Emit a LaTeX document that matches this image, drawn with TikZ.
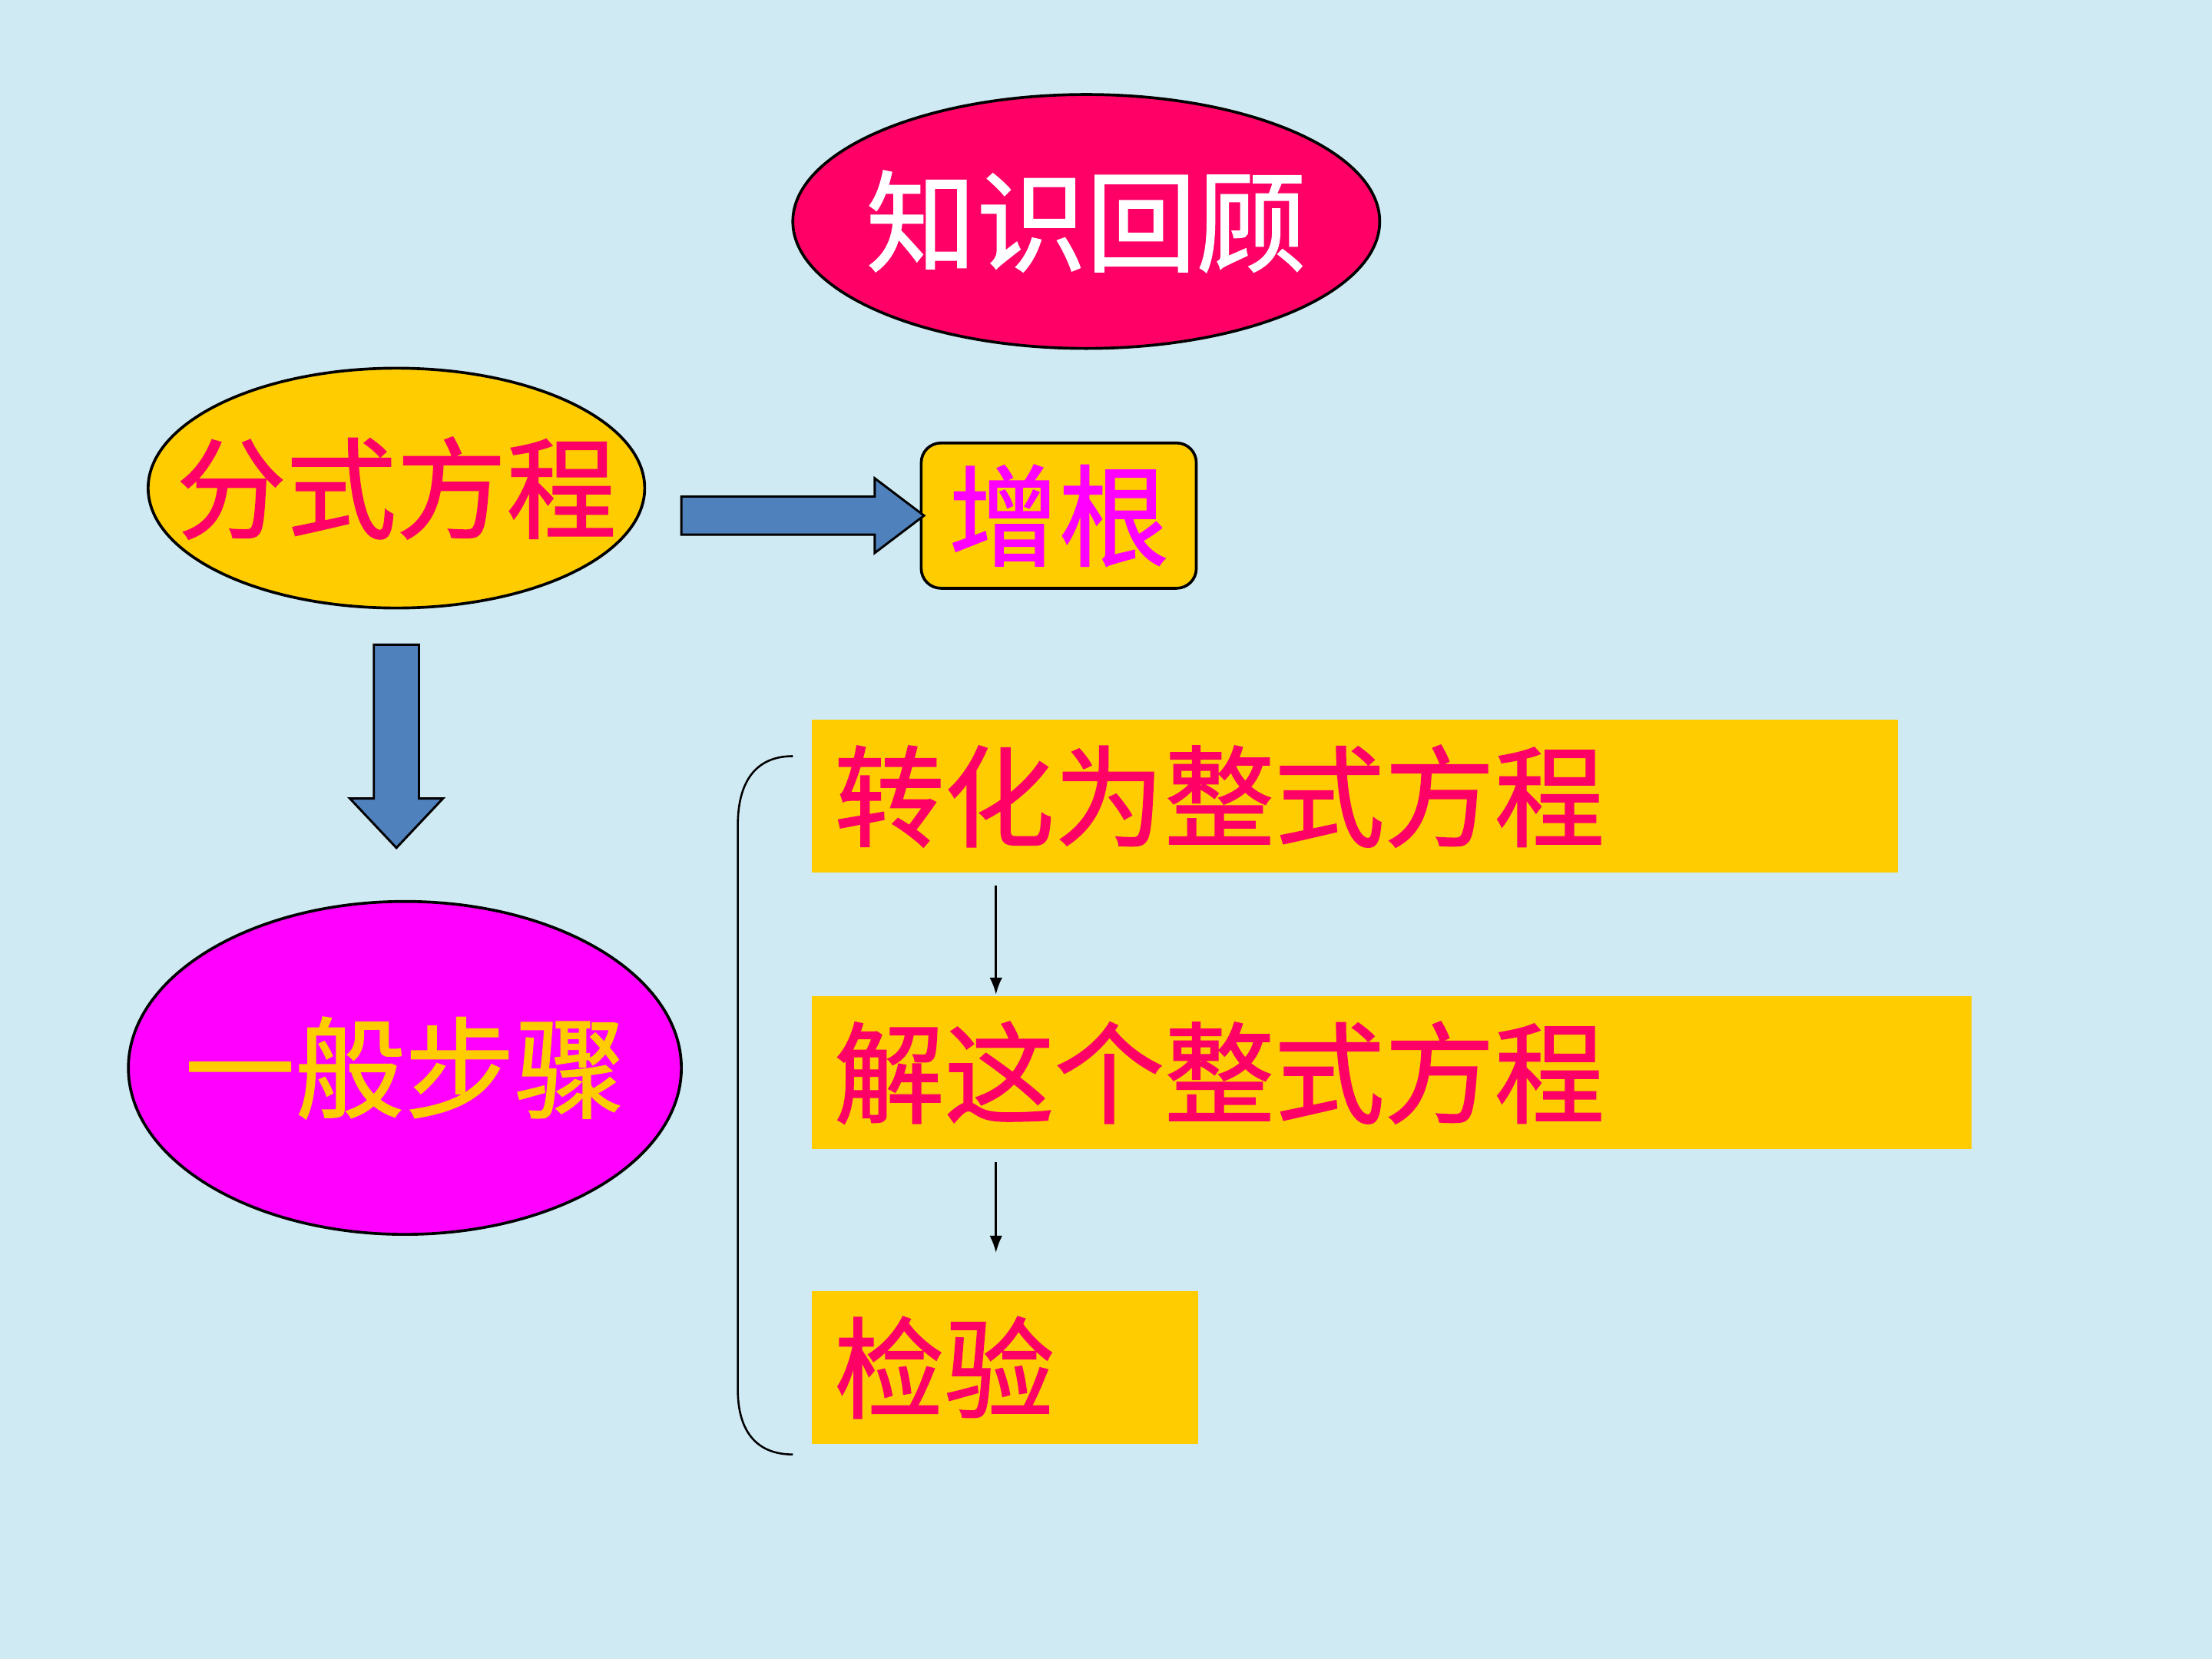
\documentclass[tikz,border=0pt]{standalone}
\usepackage{fontspec}
\newfontfamily\cjk{Noto Sans CJK SC}[FakeBold=1.2]
\usetikzlibrary{shapes.geometric,arrows.meta}
\definecolor{bg}{RGB}{208,234,244}
\definecolor{crimson}{RGB}{255,0,102}
\definecolor{gold}{RGB}{255,204,0}
\definecolor{steel}{RGB}{79,129,189}
\definecolor{mag}{RGB}{255,0,255}
\tikzset{
  big/.style={font=\cjk\fontsize{39}{39}\selectfont, inner sep=0pt},
  oval/.style={ellipse, draw=black, line width=1pt, inner sep=0pt},
  stepbox/.style={fill=gold, anchor=north west, inner xsep=8pt, inner ysep=0pt,
    align=left, font=\cjk\fontsize{39}{39}\selectfont, text=crimson, minimum height=54pt},
  blockarrow/.style={fill=steel, draw=black, line width=0.8pt, line join=miter},
  thin/.style={line width=0.7pt, -{Latex[length=6pt,width=4.5pt]}}
}
\begin{document}
\begin{tikzpicture}[x=0.5pt,y=-0.5pt]
\fill[bg] (0,0) rectangle (1568,1176);
\useasboundingbox (0,0) rectangle (1568,1176);

% top ellipse
\node (zs) [oval, fill=crimson, minimum width=416pt*0.5, minimum height=180pt*0.5] at (770,157) {};
\node [big, text=white] at (zs) {知识回顾};

% fractional equation
\node (fs) [oval, fill=gold, minimum width=352pt*0.5, minimum height=170pt*0.5] at (281,346) {};
\node [big, text=crimson] at (fs) {分式方程};

% extraneous root box
\node (zg) [draw=black, line width=1pt, fill=gold, rounded corners=7pt,
  minimum width=195pt*0.5, minimum height=103pt*0.5, inner sep=0pt] at (750.5,365.5) {};
\node [big, text=mag] at (zg) {增根};

% general steps
\node (yb) [oval, fill=mag, minimum width=392pt*0.5, minimum height=236pt*0.5] at (287,757) {};
\node [big, text=gold] at (yb) {一般步骤};

% block arrows
\draw[blockarrow] (483,352) -- (620,352) -- (620,339) -- (655,365.5) -- (620,392) -- (620,379) -- (483,379) -- cycle;
\draw[blockarrow] (265,457) -- (297,457) -- (297,566) -- (314,566) -- (281,601) -- (248,566) -- (265,566) -- cycle;

% step boxes
\node (b1) [stepbox, minimum width=385pt, text width=369pt] at (575,510) {转化为整式方程};
\node (b2) [stepbox, minimum width=411pt, text width=395pt] at (575,706) {解这个整式方程};
\node (b3) [stepbox, minimum width=137pt, text width=121pt] at (575,915) {检验};

% thin arrows
\coordinate (a1s) at (706,628);
\coordinate (a1e) at (706,705);
\coordinate (a2s) at (706,824);
\coordinate (a2e) at (706,888);
\draw[thin] (a1s) -- (a1e);
\draw[thin] (a2s) -- (a2e);

% bracket
\draw[line width=0.7pt] (562,536) .. controls (535,536) and (523,555) .. (523,585)
  -- (523,985) .. controls (523,1013) and (535,1031) .. (562,1031);
\end{tikzpicture}
\end{document}
